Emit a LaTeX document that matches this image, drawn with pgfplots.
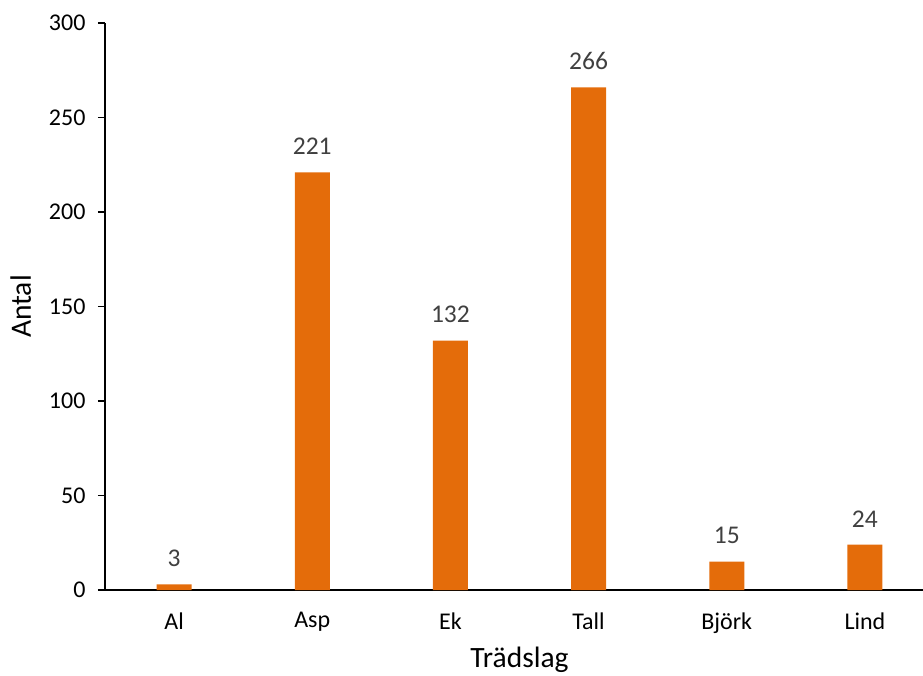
\documentclass[border=0pt]{standalone}
\usepackage{fontspec}
\setmainfont{Carlito}
\usepackage{pgfplots}
\pgfplotsset{compat=1.18}
\definecolor{barorange}{HTML}{E46C0A}
\definecolor{labelgray}{HTML}{404040}
\begin{document}
\begin{tikzpicture}[x=1pt,y=1pt]
\clip (-105,-85) rectangle (818,590);
\begin{axis}[
  at={(0,0)}, anchor=south west,
  scale only axis, width=829pt, height=567pt,
  xmin=-0.5, xmax=5.5, ymin=0, ymax=300,
  axis lines*=left,
  axis line style={black, line width=1.5pt},
  xtick=data,
  xticklabels={Al,Asp,Ek,Tall,Björk,Lind},
  x tick style={draw=none},
  ytick={0,50,...,300},
  y tick style={black, line width=1.5pt},
  tick align=outside,
  major tick length=7pt,
  /pgf/number format/assume math mode=true,
  tick label style={font=\fontsize{24}{28}\selectfont, text=black},
  yticklabel style={xshift=-9pt},
  xticklabel style={yshift=-12pt},
  xlabel={Trädslag},
  ylabel={Antal},
  label style={font=\fontsize{29.5}{34}\selectfont},
  xlabel style={yshift=-7pt},
  ylabel style={yshift=11pt},
  ybar, bar width=35pt,
  nodes near coords,
  every node near coord/.append style={font=\fontsize{25.5}{30}\selectfont, text=labelgray, yshift=14pt},
]
\addplot[fill=barorange, draw=none] coordinates {
  (0,3) (1,221) (2,132) (3,266) (4,15) (5,24)
};
\end{axis}
\end{tikzpicture}
\end{document}
